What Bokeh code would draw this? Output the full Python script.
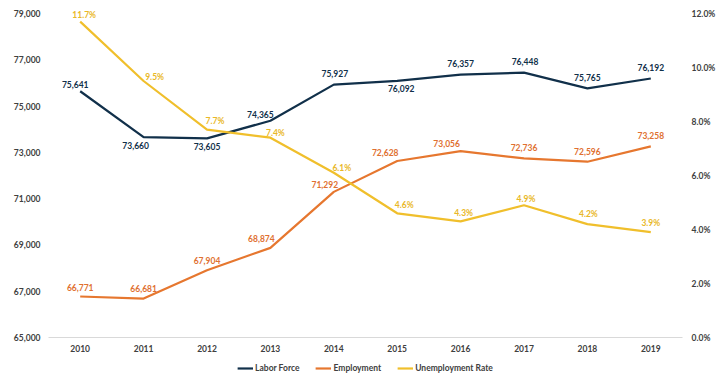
from bokeh.plotting import figure
from bokeh.layouts import column
from bokeh.models import (Range1d, LinearAxis, FixedTicker, NumeralTickFormatter,
                          PrintfTickFormatter, Legend, LegendItem, ColumnDataSource)
from bokeh.embed import file_html
from bokeh.resources import INLINE
from bokeh.core.properties import value

years = [2010, 2011, 2012, 2013, 2014, 2015, 2016, 2017, 2018, 2019]
labor_force = [75641, 73660, 73605, 74365, 75927, 76092, 76357, 76448, 75765, 76192]
employment = [66771, 66681, 67904, 68874, 71292, 72628, 73056, 72736, 72596, 73258]
unemployment_rate = [11.7, 9.5, 7.7, 7.4, 6.1, 4.6, 4.3, 4.9, 4.2, 3.9]
series_names = ["Labor Force", "Employment", "Unemployment Rate"]
left_ticks = [65000, 67000, 69000, 71000, 73000, 75000, 77000, 79000]
right_ticks = [0, 2, 4, 6, 8, 10, 12]

# data-label placement (style, screen px offsets)
lf_dx = [-5, -8, 0, -10, 1, 4, 0, 1, 0, 0]
lf_dy = [-7, 8, 8, -6, -11, 8, -11, -11, -11, -11]
emp_dx = [0, 0, 0, -9, -9, -12, -14, 0, 0, 0]
emp_dy = [-9, -10, -10, -9, -7, -8, -8, -11, -10, -11]
ur_dx = [4, 11, 8, 5, 8, 7, 3, 2, 1, 0]
ur_dy = [-7, -4, -9, -5, -5, -8, -8, -6, -10, -9]

NAVY = "#11304a"
ORANGE = "#e6772f"
GOLD = "#f0bf2c"
AXIS_TXT = "#404040"
FONT = "Lato"
FS = "8.5px"

# extend ranges slightly above the top tick so the top labels aren't clipped
pad_frac = 10 / 324
p = figure(width=728, height=357, output_backend="svg", toolbar_location=None,
           x_range=Range1d(2009.5, 2019.5),
           y_range=Range1d(65000, 79000 + 14000 * pad_frac),
           min_border_left=48, min_border_right=46, min_border_top=3, min_border_bottom=20,
           outline_line_color=None)
p.extra_y_ranges = {"pct": Range1d(0, 12 + 12 * pad_frac)}

p.xgrid.grid_line_color = None
p.ygrid.grid_line_color = None


def style_axis(ax, standoff):
    ax.major_tick_line_color = None
    ax.minor_tick_line_color = None
    ax.major_tick_out = 0
    ax.major_tick_in = 0
    ax.minor_tick_out = 0
    ax.minor_tick_in = 0
    ax.major_label_text_font = FONT
    ax.major_label_text_font_style = "bold"
    ax.major_label_text_font_size = FS
    ax.major_label_text_color = AXIS_TXT
    ax.major_label_standoff = standoff


xa = p.xaxis[0]
xa.ticker = FixedTicker(ticks=years)
xa.formatter = NumeralTickFormatter(format="0")
xa.axis_line_color = "#d9d9d9"
style_axis(xa, 7)

ya = p.yaxis[0]
ya.ticker = FixedTicker(ticks=left_ticks)
ya.formatter = NumeralTickFormatter(format="0,0")
ya.axis_line_color = None
style_axis(ya, 8)

ra = LinearAxis(y_range_name="pct", ticker=FixedTicker(ticks=right_ticks),
                formatter=PrintfTickFormatter(format="%.1f%%"))
ra.axis_line_color = None
style_axis(ra, 9)
p.add_layout(ra, "right")

src = ColumnDataSource(dict(
    x=years, lf=labor_force, emp=employment, ur=unemployment_rate,
    lf_txt=[f"{v:,}" for v in labor_force],
    emp_txt=[f"{v:,}" for v in employment],
    ur_txt=[f"{v:.1f}%" for v in unemployment_rate],
    lf_dx=lf_dx, lf_dy=lf_dy, emp_dx=emp_dx, emp_dy=emp_dy, ur_dx=ur_dx, ur_dy=ur_dy,
))

p.line("x", "lf", source=src, line_color=NAVY, line_width=2.2)
p.line("x", "emp", source=src, line_color=ORANGE, line_width=2.2)
p.line("x", "ur", source=src, line_color=GOLD, line_width=2.2, y_range_name="pct")

common = dict(source=src, text_baseline="middle", text_align="center",
              text_font=value(FONT), text_font_style="bold", text_font_size=FS)
p.text("x", "lf", text="lf_txt", x_offset="lf_dx", y_offset="lf_dy",
       text_color=NAVY, **common)
p.text("x", "emp", text="emp_txt", x_offset="emp_dx", y_offset="emp_dy",
       text_color="#e07030", **common)
p.text("x", "ur", text="ur_txt", x_offset="ur_dx", y_offset="ur_dy",
       text_color="#e9b828", y_range_name="pct", **common)

# legend strip below the chart (its lines use the real data but lie outside its view)
lg = figure(width=728, height=22, output_backend="svg", toolbar_location=None,
            x_range=Range1d(0, 1), y_range=Range1d(0, 1),
            x_axis_location=None, y_axis_location=None, min_border=0,
            outline_line_color=None)
lg.xgrid.grid_line_color = None
lg.ygrid.grid_line_color = None
items = []
for name, col, fld in zip(series_names, [NAVY, ORANGE, GOLD], ["lf", "emp", "ur"]):
    r = lg.line("x", fld, source=src, line_color=col, line_width=2.2)
    items.append(LegendItem(label=name, renderers=[r]))

legend = Legend(items=items, orientation="horizontal", location="center",
                label_text_font=FONT, label_text_font_style="bold",
                label_text_font_size=FS, label_text_color=AXIS_TXT,
                glyph_width=16, glyph_height=8, label_standoff=2, spacing=16,
                padding=2, margin=0, border_line_color=None, background_fill_alpha=0,
                label_height=10)
lg.add_layout(legend)

layout = column(p, lg, spacing=0)
open("out.html", "w").write(file_html(layout, INLINE))
